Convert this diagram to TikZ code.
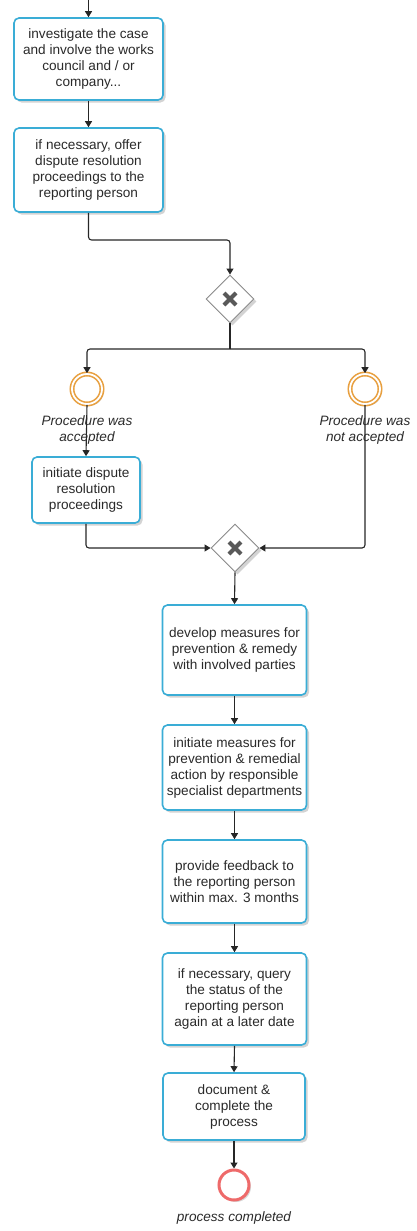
\documentclass[tikz,border=0pt]{standalone}
\usepackage{fontspec}
\setmainfont{Liberation Sans}
\usetikzlibrary{shapes.geometric,arrows.meta,shadows}
\definecolor{taskblue}{HTML}{3AADD6}
\definecolor{evorange}{HTML}{E8A040}
\definecolor{evred}{HTML}{EE6A6A}
\definecolor{txt}{HTML}{2A2A2A}
\definecolor{gwgray}{HTML}{8A8A8A}
\definecolor{xgray}{HTML}{595959}
\begin{document}
\begin{tikzpicture}[x=1pt,y=-1pt,
  font=\fontsize{13.6}{16}\selectfont,
  task/.style={draw=taskblue, line width=1.6pt, fill=white, rounded corners=5pt,
    align=center, text=txt, inner sep=2pt,
    drop shadow={shadow xshift=2.5pt, shadow yshift=-2.5pt, opacity=0.35}},
  gw/.style={diamond, draw=gwgray, line width=0.9pt, fill=white, minimum width=48pt, minimum height=48pt, inner sep=0pt,
    drop shadow={shadow xshift=2.5pt, shadow yshift=-2.5pt, opacity=0.35}},
  evmid/.style={circle, draw=evorange, line width=1.6pt, double=white, double distance=1.8pt, fill=white,
    minimum size=30pt, inner sep=0pt,
    drop shadow={shadow xshift=2pt, shadow yshift=-2pt, opacity=0.3}},
  evend/.style={circle, draw=evred, line width=3pt, fill=white, minimum size=30pt, inner sep=0pt,
    drop shadow={shadow xshift=2pt, shadow yshift=-2pt, opacity=0.3}},
  lbl/.style={font=\fontsize{13.6}{16}\selectfont\itshape, text=txt, align=center, inner sep=0pt},
  flow/.style={draw=black!85, line width=1.1pt, rounded corners=3pt, -{Triangle[length=6pt,width=7pt]}},
  plain/.style={draw=black!85, line width=1.1pt, rounded corners=3pt}
]
\useasboundingbox (0,0) rectangle (417,1231);

\coordinate (start) at (88.5,0);
\node[task, minimum width=149pt, minimum height=82pt] (t1) at (88.5,59) {investigate the case\\and involve the works\\council and / or\\company...};
\node[task, minimum width=149pt, minimum height=84pt] (t2) at (88.5,170) {if necessary, offer\\dispute resolution\\proceedings to the\\reporting person};
\node[gw] (g1) at (230,299) {};
\draw[xgray, line width=4pt] (g1.center) ++(-6,-6) -- ++(12,12);
\draw[xgray, line width=4pt] (g1.center) ++(6,-6) -- ++(-12,12);
\node[evmid] (c1) at (87,389) {};
\node[evmid] (c2) at (365,389) {};
\node[task, minimum width=108pt, minimum height=66pt] (t3) at (86,490) {initiate dispute\\resolution\\proceedings};
\node[gw] (g2) at (235,548) {};
\draw[xgray, line width=4pt] (g2.center) ++(-6,-6) -- ++(12,12);
\draw[xgray, line width=4pt] (g2.center) ++(6,-6) -- ++(-12,12);
\node[task, minimum width=144pt, minimum height=90pt] (t4) at (234.5,650) {develop measures for\\prevention \& remedy\\with involved parties};
\node[task, minimum width=144pt, minimum height=85pt] (t5) at (234.5,767.5) {initiate measures for\\prevention \& remedial\\action by responsible\\specialist departments};
\node[task, minimum width=144pt, minimum height=83pt] (t6) at (234.5,881.5) {provide feedback to\\the reporting person\\within max. 3 months};
\node[task, minimum width=144pt, minimum height=92pt] (t7) at (234.5,999) {if necessary, query\\the status of the\\reporting person\\again at a later date};
\node[task, minimum width=142pt, minimum height=67pt] (t8) at (234,1106.5) {document \&\\complete the\\process};
\node[evend] (e) at (234,1185) {};

\coordinate (j1) at (88.5,240);
\coordinate (br) at (230,349);

\draw[flow] (start) -- (t1.north);
\draw[flow] (t1.south) -- (t2.north);
\draw[flow] (t2.south) -- (j1) -| (g1.north);
\draw[plain] (g1.south) -- (br);
\draw[flow] (br) -| (c1.north);
\draw[flow] (br) -| (c2.north);
\draw[flow] (c1.south) -- (t3.north);
\draw[flow] (c2.south) |- (g2.east);
\draw[flow] (t3.south) |- (g2.west);
\draw[flow] (g2.south) -- (t4.north);
\draw[flow] (t4.south) -- (t5.north);
\draw[flow] (t5.south) -- (t6.north);
\draw[flow] (t6.south) -- (t7.north);
\draw[flow] (t7.south) -- (t8.north);
\draw[flow] (t8.south) -- (e.north);

\node[lbl] (l1) at (87,430) {Procedure was\\accepted};
\node[lbl] (l2) at (365,430) {Procedure was\\not accepted};
\node[lbl] (l3) at (234,1218) {process completed};
\end{tikzpicture}
\end{document}
